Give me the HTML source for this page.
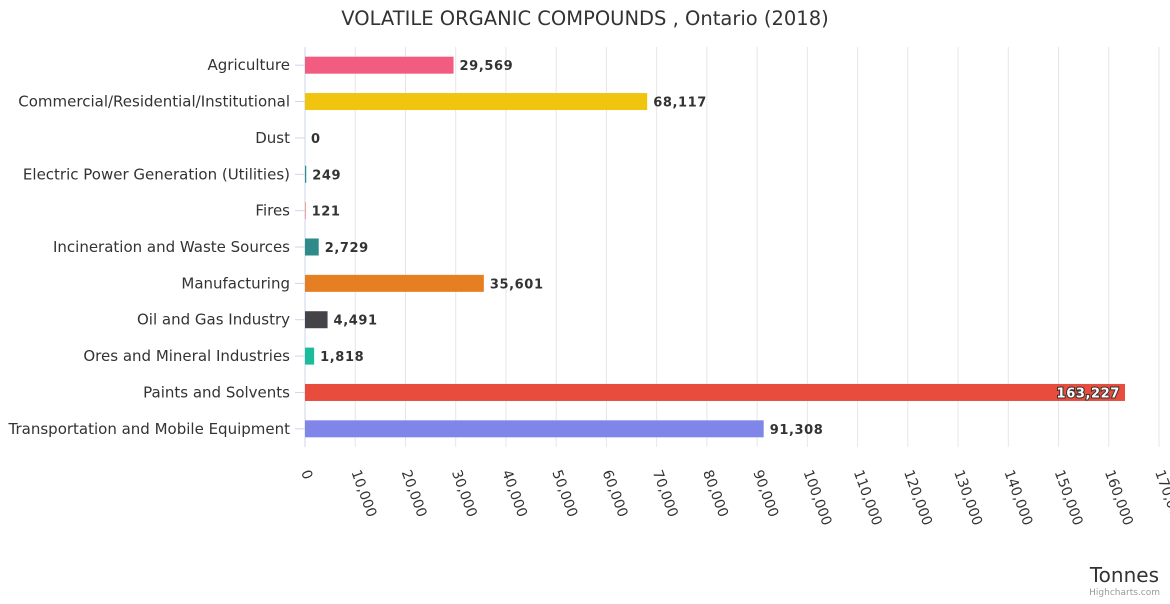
<!DOCTYPE html>
<html><head><meta charset="utf-8"><style>
body{margin:0;background:#fff;font-family:"DejaVu Sans",sans-serif}
</style></head><body>
<svg id="c" width="1170" height="600" font-family="DejaVu Sans, sans-serif" xmlns="http://www.w3.org/2000/svg">
<text x="585" y="25" text-anchor="middle" font-size="19.5" fill="#333">VOLATILE ORGANIC COMPOUNDS , Ontario (2018)</text>
<text x="1159" y="582" text-anchor="end" font-size="20" fill="#333">Tonnes</text>
<text x="1160" y="595" text-anchor="end" font-size="9" fill="#999">Highcharts.com</text>
<g id="grid"></g><g id="bars"></g>
</svg>
<script>
const categories=["Agriculture","Commercial/Residential/Institutional","Dust","Electric Power Generation (Utilities)","Fires","Incineration and Waste Sources","Manufacturing","Oil and Gas Industry","Ores and Mineral Industries","Paints and Solvents","Transportation and Mobile Equipment"];
const values=[29569,68117,0,249,121,2729,35601,4491,1818,163227,91308];
const colors=["#f15c80","#f1c40f","#e4d354","#2b908f","#f45b5b","#2e8b8a","#e67e22","#434348","#1abc9c","#e74c3c","#8085e9"];
const ticks=[0,10000,20000,30000,40000,50000,60000,70000,80000,90000,100000,110000,120000,130000,140000,150000,160000,170000];
const X0=305,X1=1159,XMAX=170000,TOP=47,BOT=447;
const x=v=>X0+v/XMAX*(X1-X0);
const rowH=(BOT-TOP)/categories.length;
const y=i=>TOP+(i+0.5)*rowH;
const NS="http://www.w3.org/2000/svg";
function mk(t,a,p){const e=document.createElementNS(NS,t);for(const k in a)e.setAttribute(k,a[k]);p.appendChild(e);return e;}
const g=document.getElementById('grid'),b=document.getElementById('bars');
ticks.forEach(t=>{
 const l=mk('line',{x1:x(t),x2:x(t),y1:TOP,y2:BOT,stroke:t===0?'#ccd6eb':'#e6e6e6','stroke-width':1},g);
 
 
 const tx=mk('text',{x:x(t)-4,y:BOT+25,'font-size':14,fill:'#333',transform:`rotate(70 ${x(t)-4} ${BOT+25})`},g);
 tx.textContent=t.toLocaleString('en-US');
 
 
});
categories.forEach((c,i)=>{
 const tk=mk('line',{x1:295,x2:305,y1:y(i),y2:y(i),stroke:'#ccd6eb'},g);
 
 
 const lt=mk('text',{x:290,y:y(i)+5,'text-anchor':'end','font-size':15,fill:'#333'},g);
 lt.textContent=c;
 
 
 const w=x(values[i])-X0;
 const r=mk('rect',{x:X0,y:y(i)-8.5,width:Math.max(w,0),height:17,fill:colors[i]},b);
 
 
 const inside=w>800;
 const vt=mk('text',{x:inside?x(values[i])-5:x(values[i])+6,y:y(i)+5,'text-anchor':inside?'end':'start','font-size':13,'font-weight':'bold',fill:inside?'#fff':'#333',stroke:'#333','stroke-width':inside?2:0,'paint-order':'stroke','letter-spacing':'0.6'},b);
 vt.textContent=values[i].toLocaleString('en-US');
 
 
});
</script>
</body></html>
